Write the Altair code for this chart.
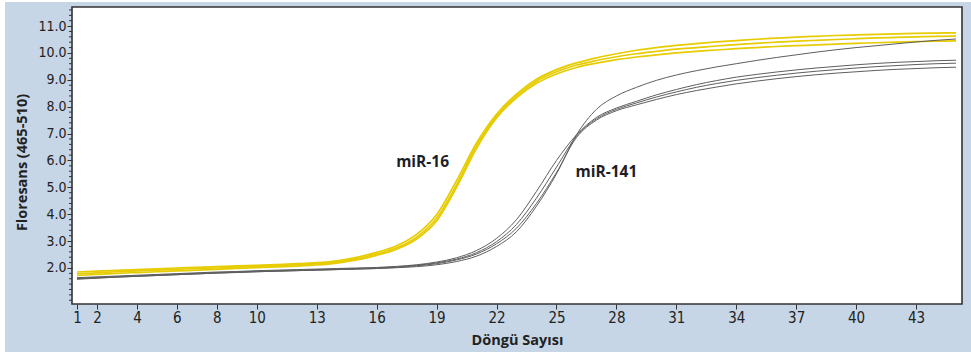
import altair as alt
import pandas as pd

# ---------------- data ----------------
cycles = list(range(1, 46))

mir16_a = [1.85,1.88,1.91,1.94,1.97,2.00,2.02,2.05,2.08,2.10,2.13,2.16,2.20,2.27,2.40,2.58,2.83,3.25,3.98,5.25,
           6.65,7.72,8.47,9.02,9.38,9.63,9.82,9.97,10.10,10.20,10.28,10.35,10.41,10.46,10.51,10.55,10.59,10.62,10.65,10.67,
           10.69,10.71,10.73,10.74,10.75]
mir16_b = [1.78,1.82,1.86,1.89,1.92,1.95,1.98,2.00,2.03,2.06,2.09,2.12,2.16,2.23,2.35,2.52,2.75,3.15,3.85,5.10,
           6.55,7.65,8.40,8.95,9.30,9.55,9.72,9.86,9.97,10.06,10.14,10.20,10.26,10.31,10.36,10.40,10.44,10.47,10.50,10.53,
           10.56,10.58,10.60,10.62,10.63]
mir16_c = [1.72,1.76,1.80,1.83,1.86,1.89,1.92,1.95,1.98,2.01,2.04,2.07,2.11,2.18,2.30,2.47,2.70,3.08,3.75,5.00,
           6.45,7.58,8.33,8.87,9.22,9.46,9.62,9.75,9.85,9.93,10.00,10.06,10.11,10.16,10.20,10.24,10.27,10.30,10.33,10.36,
           10.38,10.40,10.42,10.44,10.45]

mir141_a = [1.58,1.62,1.66,1.69,1.72,1.75,1.78,1.81,1.83,1.86,1.88,1.90,1.92,1.94,1.96,1.98,2.01,2.05,2.12,2.24,
            2.44,2.80,3.35,4.30,5.50,6.95,7.90,8.40,8.72,8.98,9.18,9.34,9.48,9.60,9.72,9.83,9.93,10.03,10.12,10.20,
            10.27,10.34,10.41,10.47,10.52]
mir141_b = [1.64,1.67,1.70,1.73,1.76,1.79,1.82,1.85,1.87,1.90,1.92,1.94,1.96,1.98,2.00,2.02,2.06,2.12,2.22,2.38,
            2.65,3.10,3.80,4.85,6.00,6.95,7.60,7.95,8.20,8.44,8.64,8.82,8.97,9.10,9.20,9.29,9.37,9.44,9.50,9.56,
            9.61,9.65,9.68,9.71,9.73]
mir141_c = [1.62,1.65,1.68,1.71,1.74,1.77,1.80,1.83,1.85,1.88,1.90,1.92,1.94,1.96,1.98,2.00,2.04,2.10,2.19,2.33,
            2.57,2.98,3.62,4.60,5.75,6.90,7.55,7.90,8.14,8.36,8.55,8.72,8.86,8.98,9.08,9.17,9.25,9.32,9.38,9.44,
            9.49,9.53,9.57,9.60,9.62]
mir141_d = [1.60,1.63,1.66,1.69,1.72,1.75,1.78,1.81,1.84,1.86,1.88,1.90,1.92,1.94,1.96,1.98,2.02,2.08,2.16,2.30,
            2.52,2.90,3.48,4.40,5.55,6.85,7.50,7.85,8.07,8.27,8.45,8.60,8.73,8.85,8.95,9.04,9.12,9.19,9.25,9.30,
            9.35,9.39,9.42,9.45,9.47]

series = {
    ("miR-16", "a"): mir16_a,
    ("miR-16", "b"): mir16_b,
    ("miR-16", "c"): mir16_c,
    ("miR-141", "a"): mir141_a,
    ("miR-141", "b"): mir141_b,
    ("miR-141", "c"): mir141_c,
    ("miR-141", "d"): mir141_d,
}

label_text = ["miR-16", "miR-141"]
label_cycle = [18.3, 27.5]
label_value = [5.94, 5.57]

x_tick_values = [1, 2, 4, 6, 8, 10, 13, 16, 19, 22, 25, 28, 31, 34, 37, 40, 43]
y_tick_values = [2.0, 3.0, 4.0, 5.0, 6.0, 7.0, 8.0, 9.0, 10.0, 11.0]
y_minor_values = [round(0.8 + 0.2 * i, 1) for i in range(55)
                  if round(0.8 + 0.2 * i, 1) not in y_tick_values]

rows = []
for (target, rep), vals in series.items():
    for c, v in zip(cycles, vals):
        rows.append({"cycle": c, "value": v, "target": target, "rep": target + rep})
df = pd.DataFrame(rows)
labels_df = pd.DataFrame({"text": label_text, "cycle": label_cycle, "value": label_value})
minor_df = pd.DataFrame({"value": y_minor_values})

# ---------------- styling ----------------
W, H = 890, 297
BLUE = "#c6d6e6"
YELLOW = "#e6cc00"
GRAY = "#5e5e5e"
TEXT = "#222222"
TITLE_FONT = "Open Sans"
TICK_FONT = "DejaVu Sans Condensed, Liberation Sans Narrow, sans-serif"

x_scale = alt.Scale(domain=[0.75, 45.3], nice=False, zero=False)
y_scale = alt.Scale(domain=[0.66, 11.71], nice=False, zero=False)

x_axis = alt.Axis(
    title="Döngü Sayısı", values=x_tick_values, grid=False, domain=False,
    tickSize=5, tickColor="#333333", labelColor=TEXT,
    labelFont=TICK_FONT, labelFontSize=15,
    labelPadding=1, labelOverlap=False, labelFlush=False,
    titleFont=TITLE_FONT, titleFontWeight="bold", titleFontSize=14.5, titleColor=TEXT,
    titlePadding=8, zindex=1,
)
y_axis = alt.Axis(
    title="Floresans (465-510)", values=y_tick_values, format=".1f", grid=False, domain=False,
    tickSize=5, tickColor="#333333", labelColor=TEXT,
    labelFont=TICK_FONT, labelFontSize=14, labelPadding=1,
    labelOverlap=False, labelFlush=False,
    titleFont=TITLE_FONT, titleFontWeight="bold", titleFontSize=14.5, titleColor=TEXT,
    titleX=-50, titleY=155, titleAlign="center", titleBaseline="middle", titleAngle=270,
    zindex=1,
)

blank = alt.Data(values=[{}])

bg = alt.Chart(blank).mark_rect(color=BLUE).encode(
    x=alt.value(-67), x2=alt.value(W + 9), y=alt.value(-5), y2=alt.value(H + 48)
)
panel = alt.Chart(blank).mark_rect(fill="white", stroke="#333333", strokeWidth=1.6).encode(
    x=alt.value(0), x2=alt.value(W), y=alt.value(0), y2=alt.value(H)
)

minor_ticks = alt.Chart(minor_df).mark_rule(color="#333333", strokeWidth=1).encode(
    y=alt.Y("value:Q", scale=y_scale, axis=y_axis),
    x=alt.value(-3), x2=alt.value(0),
)

base = alt.Chart(df).encode(
    x=alt.X("cycle:Q", scale=x_scale, axis=x_axis),
    y=alt.Y("value:Q", scale=y_scale, axis=y_axis),
    detail="rep:N",
)
yellow_lines = base.transform_filter(alt.datum.target == "miR-16").mark_line(
    color=YELLOW, strokeWidth=1.7, interpolate="monotone"
)
gray_lines = base.transform_filter(alt.datum.target == "miR-141").mark_line(
    color=GRAY, strokeWidth=1.0, interpolate="monotone"
)
texts = alt.Chart(labels_df).mark_text(
    font=TITLE_FONT, fontWeight="bold", fontSize=15.5, color="#1e1e28"
).encode(
    x=alt.X("cycle:Q", scale=x_scale, axis=x_axis),
    y=alt.Y("value:Q", scale=y_scale, axis=y_axis),
    text="text:N",
)

chart = alt.layer(bg, panel, minor_ticks, yellow_lines, gray_lines, texts).properties(
    width=W, height=H,
    autosize=alt.AutoSizeParams(type="none"),
    padding={"left": 72, "top": 7, "right": 9, "bottom": 52},
    background="white",
).configure_view(stroke=None)

chart.save("out.html", embed_options={"renderer": "svg", "actions": False})
